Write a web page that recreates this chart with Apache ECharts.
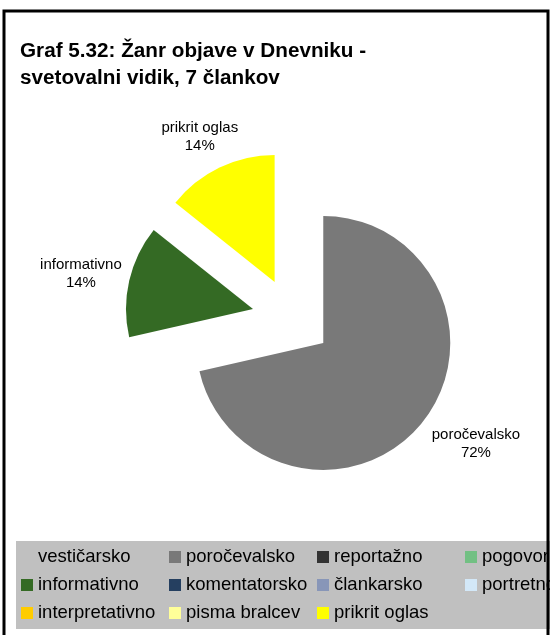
<!DOCTYPE html>
<html>
<head>
<meta charset="utf-8">
<script src="https://cdn.jsdelivr.net/npm/echarts@6/dist/echarts.min.js"></script>
<style>
  html, body { margin: 0; padding: 0; background: #fff; }
  #chart { width: 552px; height: 635px; }
</style>
</head>
<body>
<div id="chart"></div>
<script>
// žanri (kategorije legende) in število člankov
var genres = ['vestičarsko', 'poročevalsko', 'reportažno', 'pogovorno',
  'informativno', 'komentatorsko', 'člankarsko', 'portretno',
  'interpretativno', 'pisma bralcev', 'prikrit oglas'];
var counts = [0, 5, 0, 0, 1, 0, 0, 0, 0, 0, 1];
var colors = ['#c0c0c0', '#797979', '#333333', '#72c083',
  '#346a24', '#253f60', '#8896b8', '#d3e8f8',
  '#ffcc00', '#ffff99', '#ffff00'];

var FONT = '"Liberation Sans", Arial, sans-serif';

//odmik napisov od izseka (radialno / vodoravno), kot v Excelu
var labelPlace = {
  'poročevalsko': { length: 35, length2: 26 },
  'informativno': { length: 30, length2: 19 },
  'prikrit oglas': { length: 34, length2: 5 }
};

var pieData = [];
for (var i = 0; i < genres.length; i++) {
  var item = {
    name: genres[i],
    value: counts[i],
    selected: counts[i] > 0,
    itemStyle: { color: colors[i] },
    label: { show: counts[i] > 0 }
  };
  if (labelPlace[genres[i]]) item.labelLine = { show: false, length: labelPlace[genres[i]].length, length2: labelPlace[genres[i]].length2 };
  pieData.push(item);
}

var chart = echarts.init(document.getElementById('chart'), null, { renderer: 'canvas' });
chart.setOption({
  animation: false,
  backgroundColor: '#fff',
  title: {
    text: 'Graf 5.32: Žanr objave v Dnevniku -\nsvetovalni vidik, 7 člankov',
    left: 20,
    top: 38,
    padding: 0,
    textStyle: { fontFamily: FONT, fontSize: 20.7, fontWeight: 'bold', color: '#000', lineHeight: 27 }
  },
  legend: {
    data: genres,
    left: 16,
    top: 541,
    width: 600,
    padding: [2, 0, 2, 5],
    itemGap: 0,
    itemWidth: 12,
    itemHeight: 12,
    icon: 'rect',
    selectedMode: false,
    backgroundColor: '#c0c0c0',
    textStyle: { fontFamily: FONT, fontSize: 18.5, color: '#000', lineHeight: 28, width: 131, overflow: 'truncate' }
  },
  series: [{
    type: 'pie',
    center: [292, 318],
    radius: 127,
    startAngle: 90,
    clockwise: true,
    selectedMode: 'multiple',
    selectedOffset: 40,
    avoidLabelOverlap: false,
    percentPrecision: 0,
    emphasis: { scale: false },
    label: {
      position: 'outside',
      formatter: '{b}\n{d}%',
      fontFamily: FONT,
      fontSize: 15,
      lineHeight: 18,
      color: '#000',
      distanceToLabelLine: 0
    },
    labelLine: { show: false },
    //vrstice napisa centrirane
    labelLayout: function () {
      return { align: 'center' };
    },
    data: pieData
  }],
  graphic: [
    { type: 'rect', z: 100, shape: { x: 550, y: 0, width: 10, height: 640 }, style: { fill: '#fff' } },
    { type: 'rect', z: 101, shape: { x: 4, y: 11, width: 544, height: 700 }, style: { fill: 'none', stroke: '#000', lineWidth: 3 } }
  ]
});
</script>
</body>
</html>
